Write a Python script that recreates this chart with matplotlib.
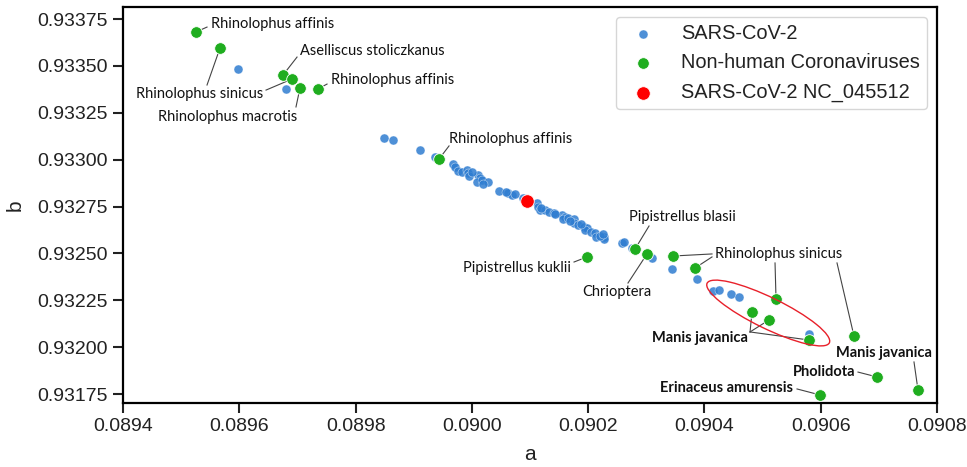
import matplotlib
matplotlib.use("Agg")
import matplotlib.pyplot as plt
from matplotlib.patches import Ellipse
from matplotlib.ticker import FormatStrFormatter, MultipleLocator
from matplotlib.transforms import ScaledTranslation

# SARS-CoV-2 genomes
sars_a = [0.0895978, 0.0896803, 0.0898489, 0.0898644, 0.0899108, 0.0899366,
          0.0899676, 0.0899710, 0.0899762, 0.0899831, 0.0899916, 0.0899934,
          0.0900106, 0.0900140, 0.0900088, 0.0900174, 0.0900278, 0.0900467,
          0.0900621, 0.0900690, 0.0900742, 0.0900880, 0.0901120, 0.0901138,
          0.0901172, 0.0901258, 0.0901327, 0.0901413, 0.0901550, 0.0901602,
          0.0901568, 0.0901654, 0.0901757, 0.0901757, 0.0901826, 0.0901929,
          0.0901980, 0.0901946, 0.0902049, 0.0902118, 0.0902135, 0.0902273,
          0.0902273, 0.0902582, 0.0902617, 0.0902754, 0.0903098, 0.0903442,
          0.0903872, 0.0904147, 0.0904251, 0.0904457, 0.0904595, 0.0905798,
          0.0899950, 0.0900200, 0.0901190, 0.0901430, 0.0901690, 0.0901880,
          0.0902200, 0.0902250, 0.0900580, 0.0900000]
sars_b = [0.933483, 0.933377, 0.933115, 0.933105, 0.933051, 0.933014,
          0.932977, 0.932961, 0.932939, 0.932934, 0.932945, 0.932929,
          0.932918, 0.932902, 0.932881, 0.932891, 0.932881, 0.932833,
          0.932822, 0.932811, 0.932817, 0.932795, 0.932769, 0.932747,
          0.932731, 0.932731, 0.932721, 0.932715, 0.932705, 0.932694,
          0.932683, 0.932689, 0.932683, 0.932662, 0.932651, 0.932641,
          0.932635, 0.932625, 0.932614, 0.932609, 0.932587, 0.932587,
          0.932577, 0.932555, 0.932561, 0.932529, 0.932475, 0.932417,
          0.932363, 0.932299, 0.932305, 0.932283, 0.932267, 0.932070,
          0.932913, 0.932870, 0.932740, 0.932709, 0.932672, 0.932655,
          0.932595, 0.932603, 0.932825, 0.932935]

# Non-human coronaviruses
other_a = [0.0895256, 0.0895668, 0.0896752, 0.0896907, 0.0897044, 0.0897354,
           0.0899435, 0.0901980, 0.0902806, 0.0903012, 0.0903459, 0.0903838,
           0.0905231, 0.0904818, 0.0905110, 0.0905798, 0.0906572, 0.0906968,
           0.0907673, 0.0905988]
other_b = [0.933681, 0.933595, 0.933451, 0.933430, 0.933382, 0.933377,
           0.933003, 0.932481, 0.932523, 0.932497, 0.932486, 0.932422,
           0.932257, 0.932187, 0.932145, 0.932038, 0.932059, 0.931841,
           0.931771, 0.931745]

# Reference genome
ref_a = [0.0900948]
ref_b = [0.932779]

# Host labels: text, text position, alignment, bold, leaders (start point, target index)
labels = [
    ("Rhinolophus affinis", (0.0895513, 0.933723), "left", False,
     [((0.0895445, 0.933707), 0)]),
    ("Rhinolophus sinicus", (0.0895324, 0.933350), "center", False,
     [((0.0895445, 0.933398), 1), ((0.0896460, 0.933371), 3)]),
    ("Aselliscus stoliczkanus", (0.0897044, 0.933579), "left", False,
     [((0.0896993, 0.933547), 2)]),
    ("Rhinolophus macrotis", (0.0895806, 0.933227), "center", False,
     [((0.0896975, 0.933281), 4)]),
    ("Rhinolophus affinis", (0.0897577, 0.933425), "left", False,
     [((0.0897509, 0.933403), 5)]),
    ("Rhinolophus affinis", (0.0899607, 0.933110), "left", False,
     [((0.0899607, 0.933073), 6)]),
    ("Pipistrellus kuklii", (0.0901705, 0.932422), "right", False,
     [((0.0901757, 0.932454), 7)]),
    ("Pipistrellus blasii", (0.0902703, 0.932694), "left", False,
     [((0.0903047, 0.932646), 8)]),
    ("Chrioptera", (0.0902496, 0.932294), "center", False,
     [((0.0902685, 0.932342), 9)]),
    ("Rhinolophus sinicus", (0.0904182, 0.932497), "left", False,
     [((0.0904130, 0.932497), 10), ((0.0904130, 0.932481), 11),
      ((0.0905214, 0.932449), 12), ((0.0906280, 0.932449), 16)]),
    ("Manis javanica", (0.0904749, 0.932049), "right", True,
     [((0.0904784, 0.932081), 13), ((0.0904784, 0.932081), 14),
      ((0.0904784, 0.932081), 15)]),
    ("Manis javanica", (0.0907089, 0.931969), "center", True,
     [((0.0907604, 0.931921), 18)]),
    ("Pholidota", (0.0906590, 0.931867), "right", True,
     [((0.0906641, 0.931867), 17)]),
    ("Erinaceus amurensis", (0.0905523, 0.931782), "right", True,
     [((0.0905592, 0.931777), 19)]),
]

blue = "#2f7dd1"
green = "#1fad1f"
red = "#ff0000"
tick_font = ["Liberation Sans Narrow", "Liberation Sans", "DejaVu Sans"]
note_font = ["Lato", "DejaVu Sans"]

fig = plt.figure(figsize=(9.67, 4.67), dpi=100)
ax = fig.add_axes([0.1272, 0.137, 0.969 - 0.1272, 0.985 - 0.137])

ax.scatter(sars_a, sars_b, s=42, color=blue, alpha=0.85, edgecolors="white",
           linewidths=0.3, zorder=3, label="SARS-CoV-2")
ax.scatter(other_a, other_b, s=70, color=green, edgecolors="white",
           linewidths=0.6, zorder=4, label="Non-human Coronaviruses")
ax.scatter(ref_a, ref_b, s=95, color=red, edgecolors="white",
           linewidths=0.6, zorder=5, label="SARS-CoV-2 NC_045512")

ax.set_xlim(0.0894, 0.0908)
ax.set_ylim(0.931702, 0.933814)
ax.xaxis.set_major_locator(MultipleLocator(0.0002))
ax.yaxis.set_major_locator(MultipleLocator(0.00025))
ax.xaxis.set_major_formatter(FormatStrFormatter("%.4f"))
ax.yaxis.set_major_formatter(FormatStrFormatter("%.5f"))

for sp in ax.spines.values():
    sp.set_linewidth(1.6)
    sp.set_color("black")
ax.tick_params(direction="out", length=7, width=1.5, pad=4, colors="#222222",
               labelsize=14)
for t in ax.get_xticklabels() + ax.get_yticklabels():
    t.set_family(tick_font)
    t.set_color("#222222")

ax.set_xlabel("a", family=tick_font, fontsize=15, color="#222222", labelpad=7)
ax.set_ylabel("b", family=tick_font, fontsize=15, color="#222222", labelpad=9)

# host labels with leader lines
for text, (tx, ty), ha, bold, leaders in labels:
    ax.text(tx, ty, text, ha=ha, va="center", family=note_font,
            fontsize=10.5, fontweight="bold" if bold else "normal",
            color="#111111", zorder=6)
    for (sx, sy), idx in leaders:
        ax.plot([sx, other_a[idx]], [sy, other_b[idx]], color="#444444",
                lw=0.8, zorder=2)

# highlight ring around the pangolin cluster
ell_center = (0.0905097, 0.932182)
ring = Ellipse((0, 0), 1.36, 0.31, angle=-26, fill=False, edgecolor="#e8202a",
               lw=1.0, zorder=6,
               transform=fig.dpi_scale_trans +
               ScaledTranslation(*ell_center, ax.transData))
ax.add_patch(ring)

leg = ax.legend(loc="upper right", prop={"family": tick_font, "size": 14.4},
                frameon=True, fancybox=True, edgecolor="#cccccc",
                borderpad=0.35, labelspacing=0.52, handletextpad=0.9,
                borderaxespad=0.5, markerscale=1.0)
leg.get_frame().set_linewidth(1.0)
for t in leg.get_texts():
    t.set_color("#222222")

fig.savefig("out.png", dpi=100)
